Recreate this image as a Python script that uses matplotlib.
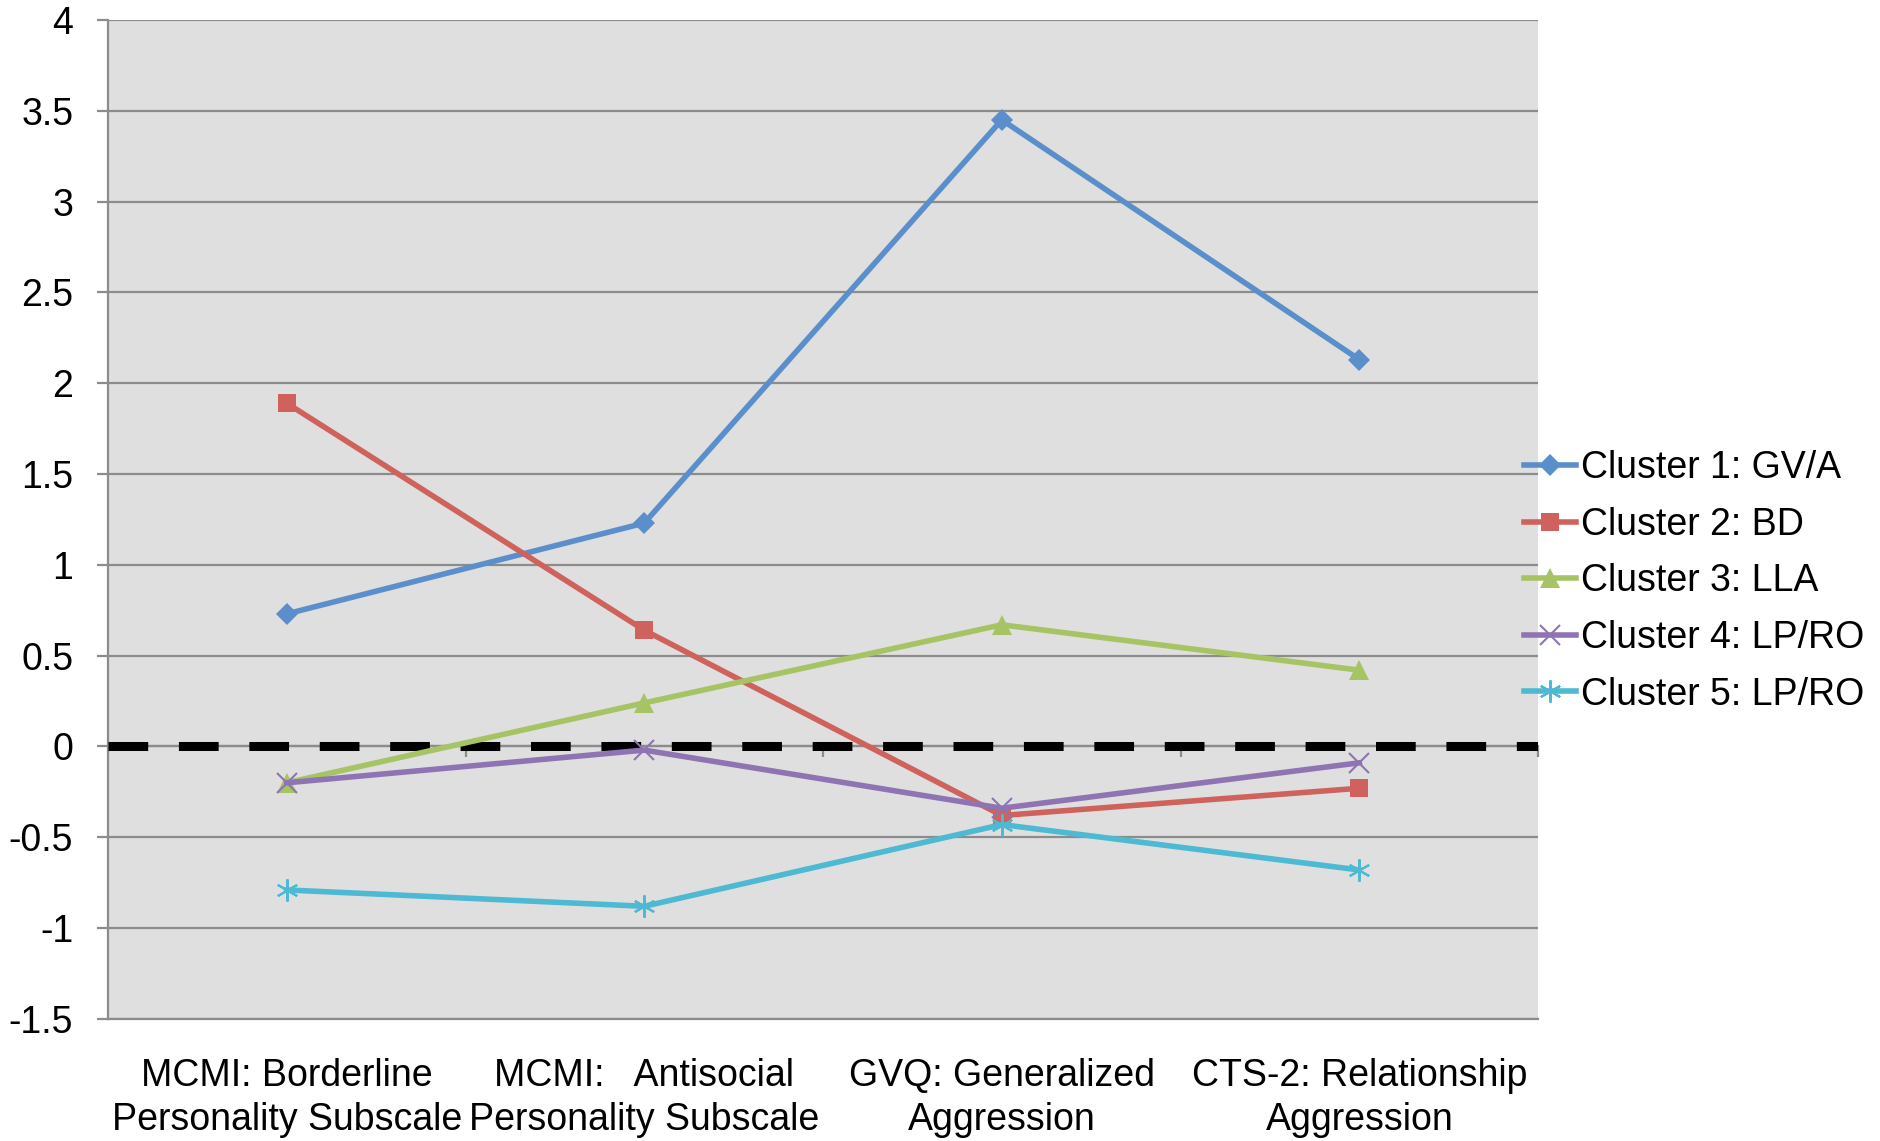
import matplotlib

matplotlib.use("Agg")
import matplotlib.pyplot as plt

plt.rcParams["font.family"] = ["Liberation Sans", "DejaVu Sans"]

CATEGORIES = [
    "MCMI: Borderline\nPersonality Subscale",
    "MCMI:   Antisocial\nPersonality Subscale",
    "GVQ: Generalized\nAggression",
    "CTS-2: Relationship\nAggression",
]
CLUSTER_NAMES = [
    "Cluster 1: GV/A",
    "Cluster 2: BD",
    "Cluster 3: LLA",
    "Cluster 4: LP/RO",
    "Cluster 5: LP/RO",
]
CLUSTER_1 = [0.73, 1.23, 3.45, 2.13]
CLUSTER_2 = [1.89, 0.64, -0.38, -0.23]
CLUSTER_3 = [-0.20, 0.24, 0.67, 0.42]
CLUSTER_4 = [-0.20, -0.02, -0.34, -0.09]
CLUSTER_5 = [-0.79, -0.88, -0.43, -0.68]
Y_TICKS = [-1.5, -1, -0.5, 0, 0.5, 1, 1.5, 2, 2.5, 3, 3.5, 4]

COLORS = ["#5b8fcb", "#cf625c", "#a6c463", "#8f74b3", "#4db9d2"]
MARKERS = ["D", "s", "^", "x", (6, 2, 0)]
MSIZES = [11, 13, 14, 14, 16]

fig = plt.figure(figsize=(18.81, 11.41), dpi=100)
ax = fig.add_axes([0.0574, 0.107, 0.7603, 0.8755])
ax.set_facecolor("#dfdfdf")

x = list(range(len(CATEGORIES)))
series = [CLUSTER_1, CLUSTER_2, CLUSTER_3, CLUSTER_4, CLUSTER_5]
for vals, name, c, m, ms in zip(series, CLUSTER_NAMES, COLORS, MARKERS, MSIZES):
    thin = m in ("x",) or isinstance(m, tuple)
    ax.plot(x, vals, color=c, lw=4, marker=m, markersize=ms,
            markeredgewidth=1.5 if thin else 0, markerfacecolor=c,
            markeredgecolor=c, label=name, zorder=4)

# zero reference line
ax.axhline(0, color="black", lw=6.5, dashes=(4.4, 3.4), zorder=3)

ax.set_xlim(-0.5, 3.5)
ax.set_ylim(-1.5, 4)
ax.set_yticks(Y_TICKS)
ax.set_yticklabels([f"{t:g}" for t in Y_TICKS])
ax.set_xticks(x)
ax.set_xticklabels(CATEGORIES, linespacing=1.3)
ax.yaxis.grid(True, color="#8c8c8c", lw=1.6, zorder=1)
ax.set_axisbelow(True)

for side in ("top", "right"):
    ax.spines[side].set_visible(False)
ax.spines["left"].set_color("#8c8c8c")
ax.spines["left"].set_linewidth(1.6)
ax.spines["bottom"].set_color("#8c8c8c")
ax.spines["bottom"].set_linewidth(1.6)
ax.tick_params(axis="y", length=8, width=1.6, color="#8c8c8c", pad=17, labelsize=27)
ax.tick_params(axis="x", length=0, pad=28, labelsize=27)

# category axis crossing at zero with boundary ticks
sec = ax.secondary_xaxis(1.5 / 5.5)
sec.set_xticks([0.5, 1.5, 2.5, 3.5])
sec.tick_params(axis="x", length=8, width=1.6, color="#8c8c8c", labelbottom=False, direction="out")
sec.spines["bottom"].set_color("#8c8c8c")
sec.spines["bottom"].set_linewidth(1.6)

ax.legend(loc="center left", bbox_to_anchor=(0.99, 0.438), frameon=False,
          fontsize=27, handlelength=1.4, handletextpad=0.12, labelspacing=0.55,
          borderaxespad=0, borderpad=0)

fig.savefig("out.png", dpi=100)
